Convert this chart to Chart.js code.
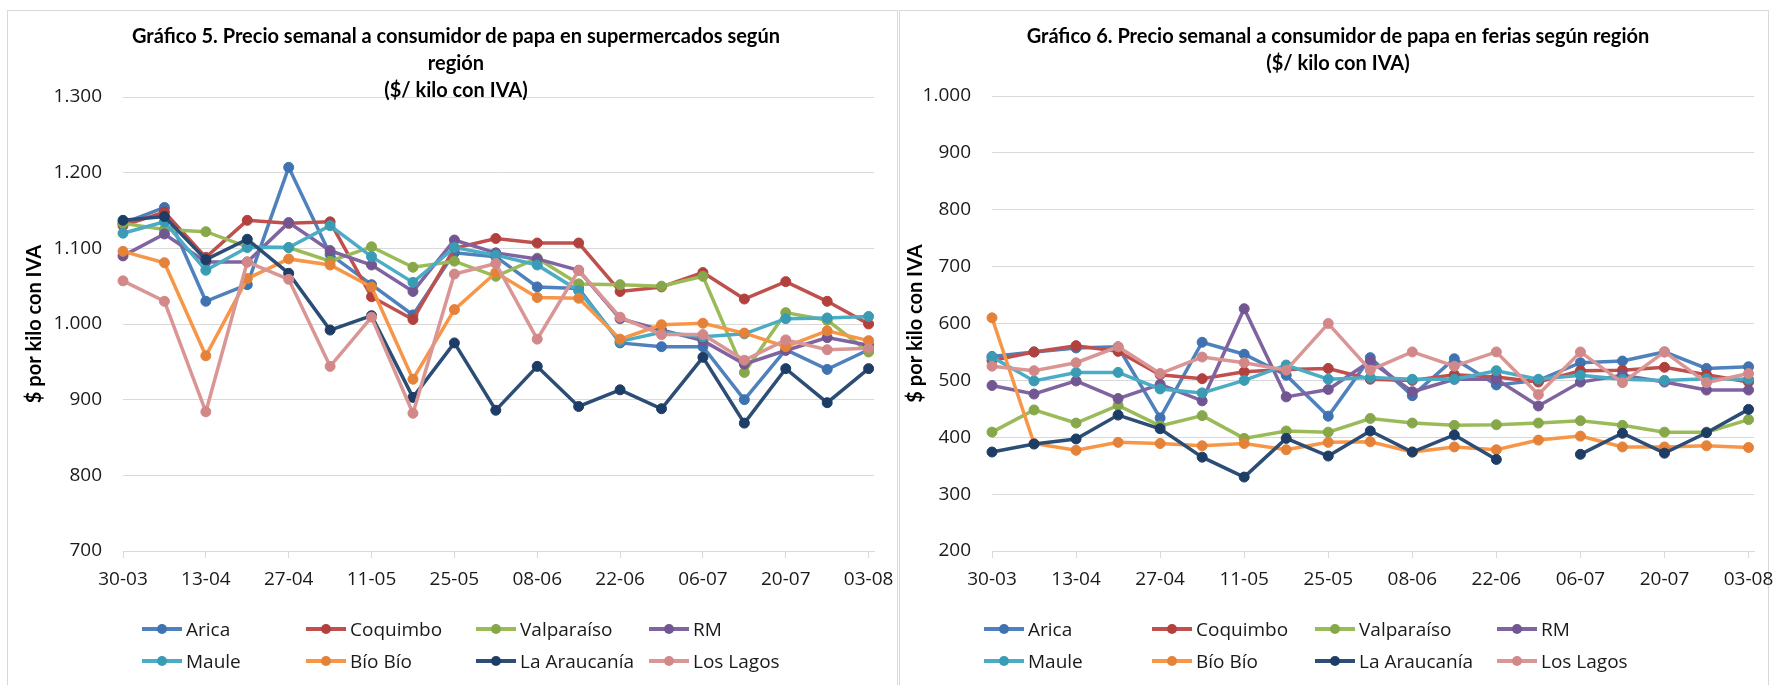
<!DOCTYPE html>
<html lang="es">
<head>
<meta charset="utf-8">
<title>Precio semanal a consumidor de papa</title>
<script src="https://cdn.jsdelivr.net/npm/chart.js@4.4.1/dist/chart.umd.min.js"></script>
<style>
  body {
    margin: 0;
    width: 1778px;
    height: 685px;
    overflow: hidden;
    position: relative;
    background: #fff;
    font-family: 'Open Sans', sans-serif;
  }
  .panel {
    position: absolute;
    top: 10px;
    height: 720px;
    border: 1px solid #d9d9d9;
    box-sizing: border-box;
  }
  #panel1 { left: 7px; width: 891px; }
  #panel2 { left: 899px; width: 870px; }
  canvas { position: absolute; top: 11px; }
  #myChart { left: 8px; }
  #myChart2 { left: 900px; }
  .titulo {
    position: absolute;
    top: 22px;
    text-align: center;
    font-family: Lato, sans-serif;
    font-weight: bold;
    font-size: 20px;
    line-height: 27px;
    color: #000;
  }
  #titulo1 { left: 11px; width: 890px; }
  #titulo2 { left: 903px; width: 870px; }
  .leyenda {
    position: absolute;
    top: 613px;
    display: grid;
    grid-auto-rows: 32px;
    font-size: 19px;
    color: #1a1a1a;
  }
  #leyenda1 { left: 142px; grid-template-columns: 164px 170px 173px auto; }
  #leyenda2 { left: 984px; grid-template-columns: 168px 163px 182px auto; }
  .item { display: flex; align-items: center; white-space: nowrap; }
  .marca { position: relative; width: 40px; height: 12px; margin-right: 4px; }
  .marca .linea { position: absolute; left: 0; right: 0; top: 4px; height: 4px; }
  .marca .punto { position: absolute; left: 15px; top: 1px; width: 10px; height: 10px; border-radius: 50%; }
</style>
</head>
<body>
<div class="panel" id="panel1"></div>
<div class="panel" id="panel2"></div>
<canvas id="myChart" width="888" height="674"></canvas>
<canvas id="myChart2" width="878" height="674"></canvas>
<div class="titulo" id="titulo1">Gráfico 5. Precio semanal a consumidor de papa en supermercados según<br>región<br>($/ kilo con IVA)</div>
<div class="titulo" id="titulo2">Gráfico 6. Precio semanal a consumidor de papa en ferias según región<br>($/ kilo con IVA)</div>
<div class="leyenda" id="leyenda1"></div>
<div class="leyenda" id="leyenda2"></div>

<script>
// semanas (inicio de semana)
const semanas = ['30-03', '06-04', '13-04', '20-04', '27-04', '04-05', '11-05', '18-05', '25-05', '01-06',
    '08-06', '15-06', '22-06', '29-06', '06-07', '13-07', '20-07', '27-07', '03-08'];

const regiones = ['Arica', 'Coquimbo', 'Valparaíso', 'RM', 'Maule', 'Bío Bío', 'La Araucanía', 'Los Lagos'];

// Gráfico 5: supermercados
const superArica = [1133, 1154, 1030, 1052, 1207, 1092, 1052, 1012, 1094, 1089, 1049, 1047, 975, 970, 970, 900, 966, 940, 966];
const superCoquimbo = [1130, 1148, 1088, 1137, 1133, 1135, 1036, 1006, 1100, 1113, 1107, 1107, 1043, 1049, 1068, 1033, 1056, 1030, 1000];
const superValparaiso = [1133, 1125, 1122, 1102, 1101, 1083, 1102, 1075, 1083, 1063, 1087, 1053, 1052, 1050, 1063, 936, 1015, 1005, 963];
const superRM = [1090, 1119, 1082, 1082, 1134, 1097, 1078, 1043, 1111, 1094, 1086, 1071, 1007, 992, 978, 947, 965, 982, 972];
const superMaule = [1120, 1135, 1071, 1101, 1101, 1130, 1089, 1055, 1101, 1091, 1078, 1044, 977, 989, 983, 987, 1007, 1008, 1010];
const superBioBio = [1096, 1081, 958, 1060, 1086, 1078, 1049, 927, 1019, 1068, 1035, 1034, 980, 999, 1001, 988, 970, 991, 978];
const superAraucania = [1137, 1142, 1085, 1112, 1067, 992, 1011, 903, 975, 886, 944, 891, 913, 888, 956, 869, 941, 896, 941];
const superLosLagos = [1057, 1030, 884, 1082, 1059, 944, 1009, 882, 1066, 1080, 980, 1071, 1009, 986, 986, 952, 979, 966, 968];

// Gráfico 6: ferias
const feriaArica = [542, 550, 557, 559, 434, 567, 546, 509, 437, 540, 473, 538, 492, 500, 531, 534, 550, 521, 524];
const feriaCoquimbo = [535, 550, 561, 551, 510, 503, 515, 519, 521, 502, 500, 510, 506, 497, 517, 518, 523, 510, 497];
const feriaValparaiso = [409, 448, 425, 456, 420, 438, 398, 411, 409, 433, 425, 421, 422, 425, 429, 421, 409, 409, 431];
const feriaRM = [491, 476, 499, 468, 493, 464, 626, 471, 484, 534, 480, 502, 502, 455, 497, 509, 497, 483, 483];
const feriaMaule = [541, 499, 514, 514, 485, 478, 500, 527, 502, 505, 502, 502, 517, 502, 509, 502, 500, 503, 502];
const feriaBioBio = [610, 389, 377, 391, 389, 385, 389, 378, 391, 392, 374, 383, 378, 395, 402, 383, 383, 385, 382];
const feriaAraucania = [374, 388, 397, 439, 415, 365, 330, 398, 367, 411, 374, 404, 361, null, 370, 407, 372, 408, 449];
const feriaLosLagos = [525, 517, 531, 559, 512, 541, 531, 518, 600, 518, 550, 525, 550, 475, 550, 496, 550, 496, 512];

const colores = ['#4F81BD', '#C0504D', '#9BBB59', '#8064A2', '#4BACC6', '#F79646', '#2C4D75', '#D99694'];
const coloresPunto = ['#3F72B0', '#B2403D', '#87A84A', '#715691', '#3A9BB5', '#E5823A', '#1D3D66', '#D28888'];

const fuenteTicks = { family: 'Open Sans', size: 19 };

function formatoMiles(v) {
    return String(v).replace(/\B(?=(\d{3})+(?!\d))/g, '.');
}

function armarDatasets(series) {
    return series.map((serie, i) => ({
        label: regiones[i],
        data: serie.map((v, j) => ({ x: j, y: v })),
        borderColor: colores[i],
        backgroundColor: coloresPunto[i],
        pointBackgroundColor: coloresPunto[i],
        pointBorderColor: coloresPunto[i],
        borderWidth: 3.5,
        pointRadius: 5,
        pointBorderWidth: 1,
        tension: 0,
        spanGaps: false,
        clip: false,
        order: -i,
    }));
}

function opciones(minY, maxY, anchoEjeY, padTitulo, padDer, padArriba) {
    return {
        responsive: false,
        animation: false,
        devicePixelRatio: 1,
        layout: { padding: { top: padArriba, right: padDer, bottom: 0, left: 0 } },
        plugins: {
            legend: { display: false },
            tooltip: { enabled: false }
        },
        scales: {
            x: {
                type: 'linear',
                min: 0,
                max: 18.13,
                ticks: {
                    stepSize: 2,
                    includeBounds: false,
                    autoSkip: false,
                    maxRotation: 0,
                    padding: 10,
                    font: fuenteTicks,
                    color: '#1a1a1a',
                    callback: (v) => semanas[v]
                },
                grid: { drawOnChartArea: false, drawTicks: true, tickLength: 7, color: '#d9d9d9' },
                border: { color: '#d9d9d9' },
                afterFit: (s) => { s.height = 134; s.paddingLeft = 0; s.paddingRight = 0; }
            },
            y: {
                min: minY,
                max: maxY,
                ticks: {
                    stepSize: 100,
                    padding: 21,
                    font: fuenteTicks,
                    color: '#1a1a1a',
                    callback: (v) => formatoMiles(v)
                },
                grid: { color: '#d9d9d9', drawTicks: false },
                border: { display: false },
                title: {
                    display: true,
                    text: '$ por kilo con IVA',
                    font: { family: 'Lato', weight: 'bold', size: 20 },
                    color: '#000',
                    padding: { top: padTitulo, bottom: 0 }
                },
                afterFit: (s) => { s.width = anchoEjeY; }
            }
        }
    };
}

function leyendaHTML(chart, id) {
    const cont = document.getElementById(id);
    chart.data.datasets.forEach((ds) => {
        const item = document.createElement('div');
        item.className = 'item';
        item.innerHTML = '<span class="marca"><span class="linea" style="background:' + ds.borderColor +
            '"></span><span class="punto" style="background:' + ds.pointBackgroundColor + '"></span></span>' + ds.label;
        cont.appendChild(item);
    });
}

const ctx = document.getElementById('myChart');
const grafico5 = new Chart(ctx, {
    type: 'line',
    data: {
        datasets: armarDatasets([superArica, superCoquimbo, superValparaiso, superRM,
            superMaule, superBioBio, superAraucania, superLosLagos])
    },
    options: opciones(700, 1300, 115, 15, 22, 86)
});
leyendaHTML(grafico5, 'leyenda1');

const ctx2 = document.getElementById('myChart2');
const grafico6 = new Chart(ctx2, {
    type: 'line',
    data: {
        datasets: armarDatasets([feriaArica, feriaCoquimbo, feriaValparaiso, feriaRM,
            feriaMaule, feriaBioBio, feriaAraucania, feriaLosLagos])
    },
    options: opciones(200, 1000, 92, 4, 24, 85)
});
leyendaHTML(grafico6, 'leyenda2');
</script>
</body>
</html>
